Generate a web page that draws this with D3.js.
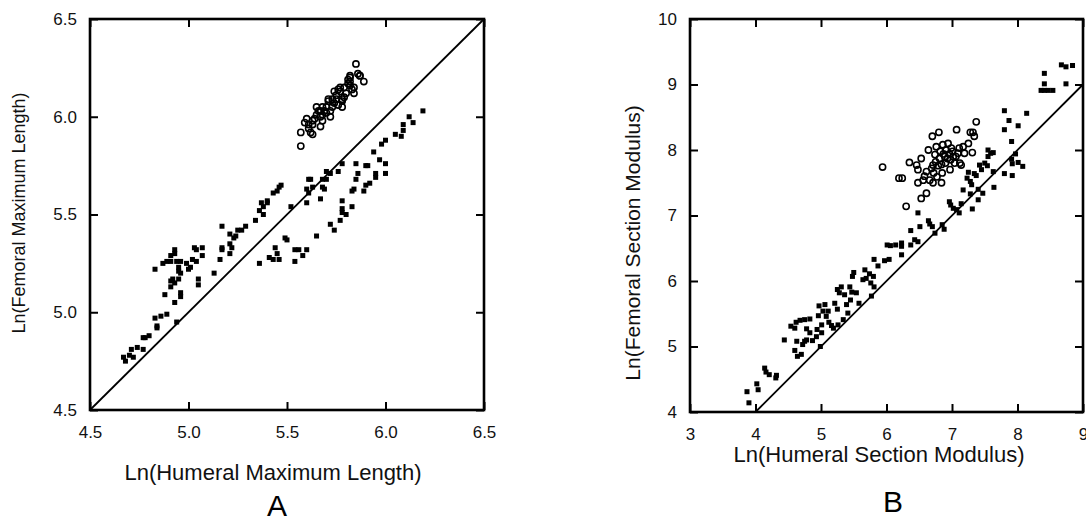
<!DOCTYPE html>
<html>
<head>
<meta charset="utf-8">
<script src="https://cdn.jsdelivr.net/npm/d3@7"></script>
<style>
  body { margin: 0; background: #fff; }
  svg { display: block; font-family: "Liberation Sans", Arial, sans-serif; }
</style>
</head>
<body>
<svg id="chart" width="1086" height="517"></svg>
<script>
// Panel A: ln humeral vs ln femoral maximum length
const lengthSquares = [
  [4.67,4.77],[4.68,4.75],[4.70,4.78],[4.72,4.77],[4.71,4.81],[4.74,4.82],[4.77,4.81],[4.77,4.87],
  [4.78,4.87],[4.80,4.88],[4.83,4.97],[4.84,4.93],[4.84,4.92],[4.86,4.98],[4.89,4.99],[4.83,5.22],
  [4.87,5.25],[4.89,5.26],[4.91,5.26],[4.91,5.29],[4.93,5.32],[4.93,5.30],[4.94,5.26],[4.96,5.26],
  [4.95,5.23],[4.95,5.21],[4.95,5.17],[4.96,5.20],[4.91,5.16],[4.92,5.17],[4.91,5.13],[4.93,5.15],
  [4.88,5.09],[4.96,5.10],[4.96,5.08],[4.93,5.05],[4.94,4.95],[4.99,5.25],[5.01,5.23],[5.00,5.22],
  [5.02,5.27],[5.03,5.33],[5.04,5.32],[5.07,5.33],[5.07,5.29],[5.05,5.17],[5.05,5.14],[5.04,5.26],
  [5.13,5.20],[5.16,5.27],[5.17,5.44],[5.17,5.33],[5.17,5.32],[5.21,5.40],[5.21,5.35],[5.21,5.30],
  [5.22,5.33],[5.23,5.38],[5.24,5.39],[5.25,5.42],[5.27,5.42],[5.29,5.44],[5.34,5.47],[5.36,5.52],
  [5.37,5.56],[5.38,5.54],[5.38,5.50],[5.40,5.57],[5.40,5.56],[5.43,5.61],[5.45,5.62],[5.46,5.64],
  [5.47,5.65],[5.36,5.25],[5.41,5.28],[5.43,5.27],[5.44,5.33],[5.45,5.30],[5.46,5.27],[5.49,5.38],
  [5.50,5.37],[5.52,5.54],[5.54,5.26],[5.54,5.32],[5.56,5.32],[5.58,5.29],[5.60,5.32],[5.60,5.56],
  [5.60,5.63],[5.61,5.68],[5.62,5.68],[5.61,5.61],[5.63,5.64],[5.65,5.39],[5.67,5.58],[5.68,5.64],
  [5.68,5.68],[5.69,5.63],[5.70,5.68],[5.70,5.72],[5.72,5.71],[5.72,5.45],[5.74,5.42],[5.76,5.72],
  [5.77,5.47],[5.78,5.53],[5.78,5.57],[5.78,5.76],[5.78,5.51],[5.80,5.50],[5.83,5.62],[5.83,5.54],
  [5.84,5.63],[5.85,5.68],[5.85,5.76],[5.86,5.71],[5.89,5.62],[5.90,5.75],[5.91,5.75],[5.90,5.65],
  [5.92,5.66],[5.94,5.82],[5.95,5.69],[5.95,5.71],[5.97,5.78],[6.00,5.76],[6.00,5.71],[5.98,5.86],
  [6.00,5.88],[6.05,5.91],[6.08,5.90],[6.09,5.96],[6.09,5.93],[6.12,6.00],[6.14,5.97],[6.19,6.03]
];
const lengthCircles = [
  [5.57,5.85],[5.57,5.92],[5.60,5.99],[5.59,5.97],[5.61,5.94],[5.62,5.92],[5.63,5.91],[5.63,5.96],
  [5.64,5.99],[5.65,6.01],[5.65,6.05],[5.66,6.03],[5.67,6.00],[5.67,5.95],[5.68,5.98],[5.69,6.03],
  [5.70,6.02],[5.71,6.08],[5.71,6.09],[5.72,6.00],[5.73,6.05],[5.74,6.07],[5.75,6.09],[5.75,6.11],
  [5.76,6.06],[5.76,6.14],[5.77,6.13],[5.78,6.09],[5.78,6.05],[5.79,6.10],[5.79,6.15],[5.80,6.12],
  [5.81,6.17],[5.82,6.20],[5.82,6.21],[5.82,6.16],[5.83,6.14],[5.84,6.12],[5.84,6.15],[5.85,6.27],
  [5.86,6.22],[5.87,6.21],[5.87,6.21],[5.89,6.18],[5.61,5.96],[5.67,6.03],[5.68,6.05],[5.70,6.05],
  [5.73,6.09],[5.74,6.13],[5.77,6.15],[5.78,6.08],[5.81,6.19],[5.82,6.18],[5.63,5.98],[5.68,6.01],
  [5.72,6.03]
];

// Panel B: ln humeral vs ln femoral section modulus
const modulusSquares = [
  [3.87,4.31],[3.90,4.14],[4.02,4.43],[4.04,4.34],[4.14,4.67],[4.16,4.61],[4.21,4.57],[4.32,4.56],
  [4.31,4.52],[4.44,5.10],[4.54,5.31],[4.60,5.28],[4.62,5.37],[4.68,5.40],[4.75,5.41],[4.83,5.42],
  [4.60,4.94],[4.63,5.08],[4.64,4.85],[4.70,4.88],[4.72,5.03],[4.75,5.08],[4.78,5.10],[4.78,5.27],
  [4.83,5.21],[4.87,5.09],[4.93,5.15],[4.94,5.26],[4.96,5.47],[4.97,5.62],[5.01,5.33],[5.01,5.21],
  [4.99,5.00],[5.03,5.54],[5.06,5.64],[5.08,5.46],[5.11,5.54],[5.12,5.37],[5.16,5.32],[5.19,5.28],
  [5.21,5.66],[5.25,5.57],[5.26,5.33],[5.25,5.87],[5.28,5.82],[5.31,5.91],[5.34,5.41],[5.36,5.79],
  [5.39,5.64],[5.41,5.51],[5.44,5.91],[5.45,5.71],[5.47,5.83],[5.48,6.07],[5.50,6.13],[5.54,5.82],
  [5.58,5.66],[5.67,6.17],[5.64,6.02],[5.69,6.04],[5.74,6.11],[5.76,5.97],[5.80,6.07],[5.81,5.91],
  [5.77,5.77],[5.81,6.33],[5.87,6.23],[5.97,6.31],[6.04,6.33],[6.01,6.55],[6.06,6.54],[6.14,6.55],
  [6.23,6.58],[6.23,6.53],[6.23,6.40],[6.37,6.77],[6.37,6.55],[6.43,6.63],[6.48,6.60],[6.48,7.04],
  [6.51,6.83],[6.64,6.92],[6.66,6.87],[6.70,6.83],[6.74,6.73],[6.85,6.86],[6.88,6.79],[6.96,7.21],
  [6.98,7.16],[7.02,7.11],[7.07,7.09],[7.11,7.04],[7.14,7.18],[7.17,7.39],[7.23,7.57],[7.25,7.66],
  [7.28,7.52],[7.30,7.47],[7.28,7.33],[7.31,7.10],[7.34,7.64],[7.37,7.61],[7.40,7.24],[7.40,7.40],
  [7.42,7.77],[7.45,7.70],[7.47,7.34],[7.50,7.80],[7.54,7.76],[7.55,7.90],[7.55,8.00],[7.59,7.95],
  [7.63,7.67],[7.63,7.96],[7.64,7.43],[7.80,8.60],[7.80,8.31],[7.87,8.45],[7.80,7.64],[7.91,8.13],
  [7.91,7.86],[7.92,7.79],[7.92,7.61],[7.97,7.94],[8.01,8.37],[8.01,7.81],[8.08,7.75],[8.14,8.56],
  [8.36,8.91],[8.41,8.91],[8.47,8.91],[8.54,8.91],[8.41,9.17],[8.41,9.01],[8.74,9.01],[8.67,9.30],
  [8.74,9.27],[8.84,9.29]
];
const modulusCircles = [
  [5.94,7.74],[6.19,7.57],[6.24,7.57],[6.30,7.14],[6.35,7.81],[6.53,7.26],[6.61,7.34],[6.48,7.50],
  [6.46,7.77],[6.48,7.70],[6.53,7.87],[6.58,7.60],[6.64,8.00],[6.66,7.54],[6.70,8.21],[6.71,7.77],
  [6.72,7.65],[6.74,7.93],[6.76,8.05],[6.79,7.76],[6.80,8.27],[6.81,7.87],[6.82,7.98],[6.84,7.50],
  [6.85,7.65],[6.86,8.08],[6.89,7.90],[6.90,7.80],[6.91,8.00],[6.94,8.10],[6.96,7.94],[6.97,7.70],
  [6.98,7.85],[6.99,8.03],[7.02,7.90],[7.04,7.80],[7.07,8.31],[7.09,7.95],[7.12,7.80],[7.14,7.77],
  [7.17,8.05],[7.19,7.95],[7.25,8.10],[7.28,8.27],[7.31,7.96],[7.32,8.27],[7.34,8.21],[7.37,8.43],
  [6.56,7.54],[6.61,7.67],[6.69,7.72],[6.75,7.82],[6.77,7.59],[6.84,7.78],[6.87,7.94],[6.93,7.87],
  [7.01,7.98],[7.06,7.90],[7.11,8.03],[6.71,7.50]
];

const lengthTicks = [4.5, 5.0, 5.5, 6.0, 6.5];
const modulusTicksX = [3, 4, 5, 6, 7, 8, 9];
const modulusTicksY = [4, 5, 6, 7, 8, 9, 10];

const svg = d3.select("#chart");

function drawPanel(opt) {
    const w = opt.right - opt.left, h = opt.bottom - opt.top;
    const x = d3.scaleLinear().domain(opt.domain).range([0, w]);
    const y = d3.scaleLinear().domain(opt.yDomain).range([h, 0]);

    const g = svg.append("g").attr("transform", `translate(${opt.left},${opt.top})`);

    // diagonal line of equality
    const lo = Math.max(opt.domain[0], opt.yDomain[0]);
    const hi = Math.min(opt.domain[1], opt.yDomain[1]);
    g.append("line")
        .attr("x1", x(lo)).attr("y1", y(lo))
        .attr("x2", x(hi)).attr("y2", y(hi))
        .attr("stroke", "#000").attr("stroke-width", 1.8);

    // points
    g.append("g").selectAll("rect")
        .data(opt.squares)
        .enter().append("rect")
        .attr("x", d => x(d[0]) - 2.5)
        .attr("y", d => y(d[1]) - 2.5)
        .attr("width", 5).attr("height", 5)
        .attr("fill", "#000");

    g.append("g").selectAll("circle")
        .data(opt.circles)
        .enter().append("circle")
        .attr("cx", d => x(d[0]))
        .attr("cy", d => y(d[1]))
        .attr("r", 3.1)
        .attr("fill", "none")
        .attr("stroke", "#000")
        .attr("stroke-width", 1.6);

    // axes, ticks pointing inward on all four sides
    const styleAxis = sel => {
        sel.select(".domain").remove();
        sel.selectAll(".tick line").attr("stroke", "#000").attr("stroke-width", 2);
        sel.selectAll("text").attr("font-family", null).attr("font-size", opt.tickFont).attr("fill", "#111");
    };
    g.append("g").attr("transform", `translate(0,${h})`)
        .call(d3.axisBottom(x).tickValues(opt.xTicks).tickFormat(opt.fmt).tickSize(-8).tickPadding(16))
        .call(styleAxis);
    g.append("g")
        .call(d3.axisTop(x).tickValues(opt.xTicks).tickFormat("").tickSize(-8))
        .call(styleAxis);
    g.append("g")
        .call(d3.axisLeft(y).tickValues(opt.yTicks).tickFormat(opt.fmt).tickSize(-8).tickPadding(13))
        .call(styleAxis);
    g.append("g").attr("transform", `translate(${w},0)`)
        .call(d3.axisRight(y).tickValues(opt.yTicks).tickFormat("").tickSize(-8))
        .call(styleAxis);

    g.append("rect")
        .attr("width", w).attr("height", h)
        .attr("fill", "none").attr("stroke", "#000").attr("stroke-width", 2.6);

    // titles
    svg.append("text")
        .attr("x", opt.xTitlePos[0]).attr("y", opt.xTitlePos[1])
        .attr("text-anchor", "middle")
        .style("font-size", "22px").attr("fill", "#111")
        .text(opt.xTitle);
    svg.append("text")
        .attr("transform", `translate(${opt.yTitlePos[0]},${opt.yTitlePos[1]}) rotate(-90)`)
        .attr("text-anchor", "middle").attr("dy", "0.35em")
        .style("font-size", opt.yTitleFont).attr("fill", "#111")
        .text(opt.yTitle);
    svg.append("text")
        .attr("x", opt.letterPos[0]).attr("y", opt.letterPos[1])
        .attr("text-anchor", "middle")
        .style("font-size", "30px").attr("fill", "#000")
        .text(opt.letter);
}

drawPanel({
    left: 90, right: 484, top: 19, bottom: 410,
    domain: [4.5, 6.5], yDomain: [4.5, 6.5],
    xTicks: lengthTicks, yTicks: lengthTicks, fmt: d3.format(".1f"),
    squares: lengthSquares, circles: lengthCircles, tickFont: "17px",
    xTitle: "Ln(Humeral Maximum Length)", xTitlePos: [273, 480],
    yTitle: "Ln(Femoral Maximum Length)", yTitlePos: [19, 213], yTitleFont: "18px",
    letter: "A", letterPos: [277, 516]
});

drawPanel({
    left: 690, right: 1083, top: 19, bottom: 412,
    domain: [3, 9], yDomain: [4, 10],
    xTicks: modulusTicksX, yTicks: modulusTicksY, fmt: d3.format("d"),
    squares: modulusSquares, circles: modulusCircles, tickFont: "17px",
    xTitle: "Ln(Humeral Section Modulus)", xTitlePos: [879, 462],
    yTitle: "Ln(Femoral Section Modulus)", yTitlePos: [633, 243], yTitleFont: "21px",
    letter: "B", letterPos: [893, 512]
});
</script>
</body>
</html>
